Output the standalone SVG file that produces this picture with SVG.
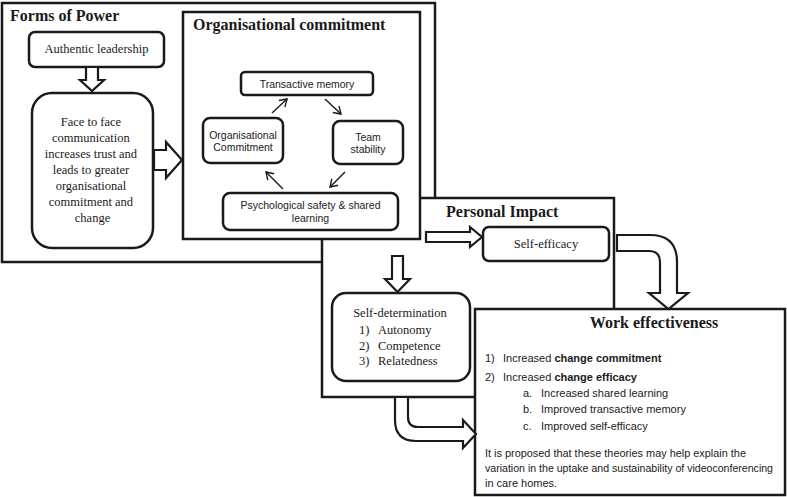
<svg xmlns="http://www.w3.org/2000/svg" width="787" height="497" viewBox="0 0 787 497">
<defs>
<style>
.frame{fill:#fff;stroke:#1a1a1a;stroke-width:2.5}
.node{fill:#fff;stroke:#1a1a1a;stroke-width:2.5}
.hollow{fill:#fff;stroke:#1a1a1a;stroke-width:2.2;stroke-linejoin:miter}
.thin{fill:none;stroke:#1a1a1a;stroke-width:1.4}
.title{font-family:"Liberation Serif","DejaVu Serif",serif;font-weight:bold;font-size:16px;fill:#1a1a1a}
.serif{font-family:"Liberation Serif","DejaVu Serif",serif;font-size:12.5px;fill:#1a1a1a}
.sans{font-family:"Liberation Sans",Arial,sans-serif;font-size:10.5px;fill:#1a1a1a}
.we{font-family:"Liberation Sans",Arial,sans-serif;font-size:11px;fill:#1a1a1a}
.b{font-weight:bold}
</style>
<marker id="open" markerUnits="userSpaceOnUse" markerWidth="12" markerHeight="12" refX="8" refY="5" orient="auto">
<path d="M1,0.5 L8,5 L1,9.5" fill="none" stroke="#1a1a1a" stroke-width="1.4"/>
</marker>
</defs>
<rect width="787" height="497" fill="#fff"/>

<g id="forms-of-power">
<rect class="frame" x="2" y="3" width="433" height="259"/>
<text class="title" x="10" y="21">Forms of Power</text>
</g>

<g id="personal-impact">
<rect class="frame" x="322" y="198" width="292" height="199"/>
<text class="title" x="446" y="217">Personal Impact</text>
</g>

<g id="organisational-commitment-frame">
<rect class="frame" x="183" y="12" width="237" height="227"/>
<text class="title" x="193" y="30">Organisational commitment</text>
</g>

<g id="work-effectiveness">
<rect class="frame" x="475" y="309" width="310" height="186"/>
<text class="title" x="654" y="328" text-anchor="middle">Work effectiveness</text>
<text class="we" x="485" y="362">1)</text>
<text class="we" x="503" y="362">Increased <tspan class="b">change commitment</tspan></text>
<text class="we" x="485" y="381">2)</text>
<text class="we" x="503" y="381">Increased <tspan class="b">change efficacy</tspan></text>
<text class="we" x="523" y="397">a.</text>
<text class="we" x="541" y="397">Increased shared learning</text>
<text class="we" x="523" y="413">b.</text>
<text class="we" x="541" y="413">Improved transactive memory</text>
<text class="we" x="523" y="430">c.</text>
<text class="we" x="541" y="430">Improved self-efficacy</text>
<text class="we" x="485" y="457" textLength="261" lengthAdjust="spacingAndGlyphs">It is proposed that these theories may help explain the</text>
<text class="we" x="485" y="472" textLength="288" lengthAdjust="spacingAndGlyphs">variation in the uptake and sustainability of videoconferencing</text>
<text class="we" x="485" y="487">in care homes.</text>
</g>

<g id="authentic-leadership">
<rect class="node" x="29" y="32" width="135" height="35" rx="6"/>
<text class="serif" x="96.5" y="53" text-anchor="middle">Authentic leadership</text>
</g>

<g id="face-to-face">
<rect class="node" x="32" y="93" width="121" height="155" rx="20"/>
<text class="serif" text-anchor="middle">
<tspan x="92.5" y="126">Face to face</tspan>
<tspan x="92.5" y="142">communication</tspan>
<tspan x="92.5" y="158">increases trust and</tspan>
<tspan x="92.5" y="174">leads to greater</tspan>
<tspan x="92.5" y="190">organisational</tspan>
<tspan x="92.5" y="206">commitment and</tspan>
<tspan x="92.5" y="222">change</tspan>
</text>
</g>

<g id="transactive-memory">
<rect class="node" x="241" y="72" width="132" height="23" rx="4"/>
<text class="sans" x="307" y="87.5" text-anchor="middle">Transactive memory</text>
</g>

<g id="org-commitment">
<rect class="node" x="203" y="118" width="80" height="45" rx="7"/>
<text class="sans" text-anchor="middle"><tspan x="243" y="139">Organisational</tspan><tspan x="243" y="151">Commitment</tspan></text>
</g>

<g id="team-stability">
<rect class="node" x="333" y="121" width="70" height="43" rx="7"/>
<text class="sans" text-anchor="middle"><tspan x="368" y="141">Team</tspan><tspan x="368" y="153">stability</tspan></text>
</g>

<g id="psych-safety">
<rect class="node" x="223" y="193" width="175" height="37" rx="7"/>
<text class="sans" text-anchor="middle"><tspan x="310.5" y="209">Psychological safety &amp; shared</tspan><tspan x="310.5" y="222">learning</tspan></text>
</g>

<g id="self-efficacy">
<rect class="node" x="483" y="227" width="126" height="34" rx="6"/>
<text class="serif" x="546" y="248" text-anchor="middle">Self-efficacy</text>
</g>

<g id="self-determination">
<rect class="node" x="332" y="293" width="138" height="88" rx="14"/>
<text class="serif" x="400" y="317" text-anchor="middle">Self-determination</text>
<text class="serif" x="359" y="334">1)</text>
<text class="serif" x="378" y="334">Autonomy</text>
<text class="serif" x="359" y="350">2)</text>
<text class="serif" x="378" y="350">Competence</text>
<text class="serif" x="359" y="365">3)</text>
<text class="serif" x="378" y="365">Relatedness</text>
</g>

<g id="connectors">
<path class="hollow" d="M86,67 L98,67 L98,80 L104,80 L92,91 L80,80 L86,80 Z"/>
<path class="hollow" d="M154,150 L166,150 L166,142 L182,160 L166,178 L166,170 L154,170 Z"/>
<path class="hollow" d="M426,232 L470,232 L470,227 L482,237 L470,247 L470,242 L426,242 Z"/>
<path class="hollow" d="M392,256 L403,256 L403,279 L410,279 L397.5,292 L385,279 L392,279 Z"/>
<path class="hollow" d="M617,235 L650,235 Q677,235 677,262 L677,293 L688,293 L668.5,309 L649,293 L660,293 L660,262 Q660,251 649,251 L617,251 Z"/>
<path class="hollow" d="M395,398 L395,420 Q395,441 416,441 L463,441 L463,448 L476,434 L463,420 L463,427 L418,427 Q408,427 408,417 L408,398"/>
<line class="thin" x1="272" y1="113" x2="287" y2="99" marker-end="url(#open)"/>
<line class="thin" x1="325" y1="99" x2="341" y2="114" marker-end="url(#open)"/>
<line class="thin" x1="345" y1="172" x2="330" y2="187" marker-end="url(#open)"/>
<line class="thin" x1="283" y1="189" x2="266" y2="172" marker-end="url(#open)"/>
</g>
</svg>
